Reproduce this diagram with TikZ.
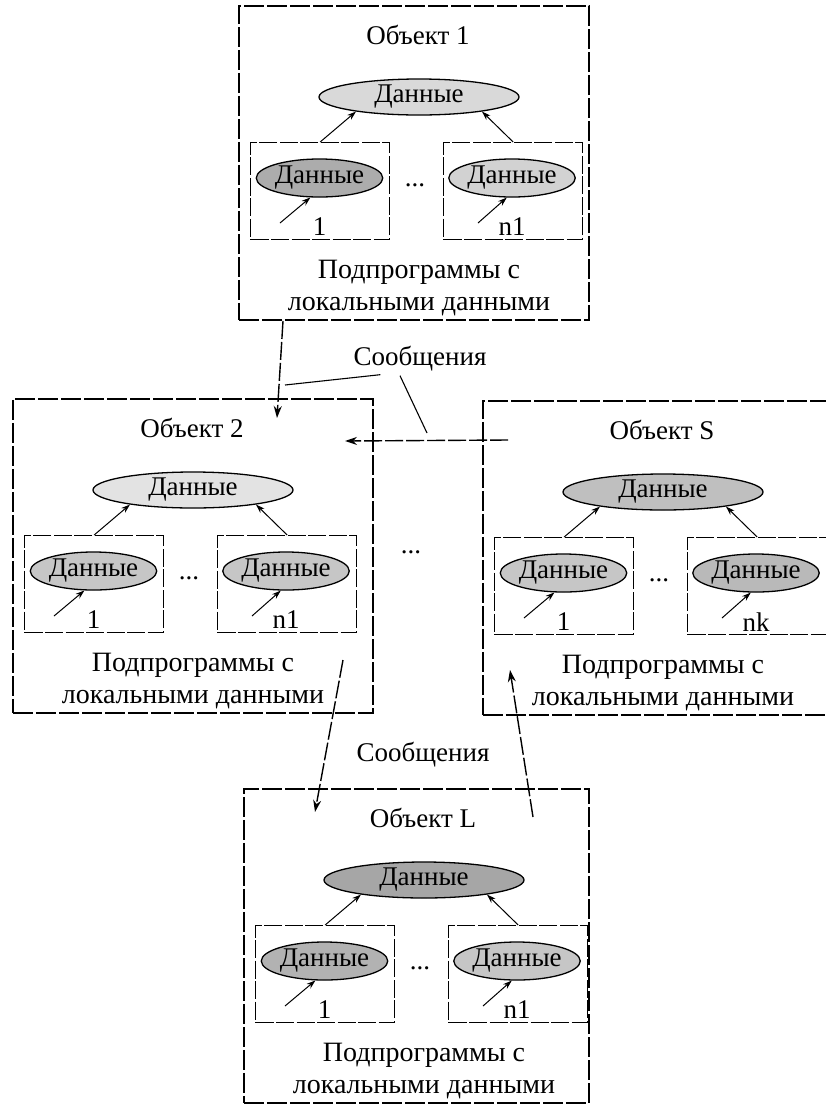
\documentclass[tikz,border=0pt]{standalone}
\usepackage{fontspec}
\setmainfont{Liberation Serif}
\usetikzlibrary{arrows.meta,shapes.geometric}
\tikzset{
  objbox/.style={draw, line width=1.5pt, dash pattern=on 20pt off 3pt, rectangle, inner sep=0pt, minimum height=314pt},
  subbox/.style={draw, line width=1.3pt, dash pattern=on 18pt off 2.5pt, rectangle, inner sep=0pt, minimum width=139pt, minimum height=97pt},
  bigell/.style={draw, line width=1.3pt, ellipse, inner sep=0pt, minimum width=200pt, minimum height=36pt},
  smallell/.style={draw, line width=1.3pt, ellipse, inner sep=0pt, minimum width=125pt, minimum height=38pt},
  txt/.style={inner sep=0pt, font=\fontsize{27}{32}\selectfont, align=center},
  subtxt/.style={inner sep=0pt, font=\fontsize{28}{32}\selectfont, align=center},
  inarr/.style={line width=1pt, -{Stealth[length=9pt,width=6pt]}},
  conn/.style={line width=1.4pt, dash pattern=on 18pt off 3pt, -{Stealth[length=12pt,width=8pt]}},
  leader/.style={line width=1.1pt}
}
\newcommand{\objblk}[9]{%
  \node[objbox, minimum width=#4pt, anchor=north west] (#1box) at (#2,#3) {};
  \node[txt] (#1title) at ({#2+180},{#3+30}) {#5};
  \node[bigell, fill=#7] (#1big) at ({#2+181},{#3+92}) {\fontsize{27}{30}\selectfont Данные};
  \node[subbox, anchor=north west] (#1s1) at ({#2+12},{#3+137}) {};
  \node[subbox, anchor=north west] (#1s2) at ({#2+205},{#3+137}) {};
  \node[smallell, fill=#8] (#1e1) at ({#2+81.5},{#3+173}) {\fontsize{27}{30}\selectfont Данные};
  \node[smallell, fill=#9] (#1e2) at ({#2+274},{#3+173}) {\fontsize{27}{30}\selectfont Данные};
  \node[txt] (#1dots) at ({#2+177},{#3+180}) {...};
  \node[txt] (#1l1) at ({#2+81.5},{#3+222}) {1};
  \node[txt] (#1l2) at ({#2+274},{#3+222}) {#6};
  \node[subtxt] (#1sub) at ({#2+181},{#3+283}) {Подпрограммы с\\локальными данными};
  \coordinate (#1t1) at ({#2+42},{#3+218});
  \coordinate (#1t2) at ({#2+240},{#3+218});
  \draw[inarr] (#1s1.north) -- (#1big.193);
  \draw[inarr] (#1s2.north) -- (#1big.-13);
  \draw[inarr] (#1t1) -- (#1e1.-115);
  \draw[inarr] (#1t2) -- (#1e2.-105);
}
\begin{document}
\begin{tikzpicture}[x=1pt,y=-1pt]
\useasboundingbox (0,0) rectangle (826,1104);
\fill[white] (0,0) rectangle (826,1104);
\objblk{oa}{238}{5}{350}{Объект 1}{n1}{gray!30}{gray!65}{gray!35}
\objblk{ob}{12}{398}{360}{Объект 2}{n1}{gray!22}{gray!45}{gray!45}
\objblk{os}{482}{400}{350}{Объект S}{nk}{gray!50}{gray!45}{gray!55}
\objblk{ol}{243}{788}{345}{Объект L}{n1}{gray!70}{gray!60}{gray!45}
% messages
\node[txt] (msg1) at (420,359) {Сообщения};
\node[txt] (msg2) at (423,755) {Сообщения};
\node[txt] (middots) at (411,552) {...};
\coordinate (c1s) at (283,321);
\coordinate (c1e) at (277,418);
\coordinate (c2s) at (508,440);
\coordinate (c2e) at (345,441);
\coordinate (c3s) at (343,660);
\coordinate (c3e) at (315,812);
\coordinate (c4s) at (533,817);
\coordinate (c4e) at (510,670);
\coordinate (ld1) at (285,385);
\coordinate (ld2) at (427,433);
\draw[conn] (c1s) -- (c1e);
\draw[conn] (c2s) -- (c2e);
\draw[conn] (c3s) -- (c3e);
\draw[conn] (c4s) -- (c4e);
\draw[leader] (msg1.south west) ++(27,3) -- (ld1);
\draw[leader] (msg1.south) ++(-20,4) -- (ld2);
\end{tikzpicture}
\end{document}
